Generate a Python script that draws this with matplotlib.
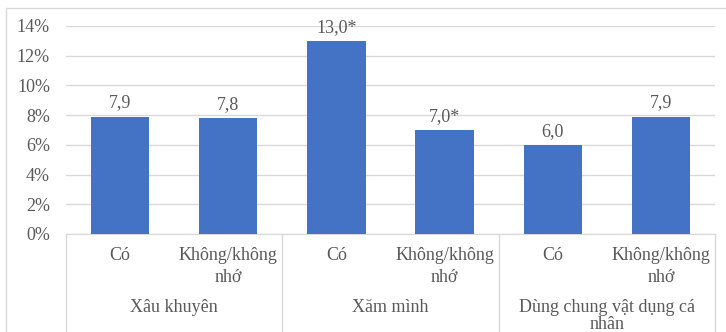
import matplotlib
matplotlib.use("Agg")
import matplotlib.pyplot as plt
from matplotlib.transforms import blended_transform_factory
from matplotlib.patches import Rectangle

groups = ["Xâu khuyên", "Xăm mình", "Dùng chung vật dụng cá\nnhân"]
subcats = ["Có", "Không/không\nnhớ"] * 3
values = [7.9, 7.8, 13.0, 7.0, 6.0, 7.9]
labels = ["7,9", "7,8", "13,0*", "7,0*", "6,0", "7,9"]
yticks = [0, 2, 4, 6, 8, 10, 12, 14]

W, H = 726, 332
fig = plt.figure(figsize=(W / 100, H / 100), dpi=100)
plt.rcParams['font.family'] = ['Liberation Serif', 'DejaVu Serif']
txt = '#595959'
grid = '#d9d9d9'
fs = 13

left, right, bot, top = 66, 715, 234, 26
ax = fig.add_axes([left / W, 1 - bot / H, (right - left) / W, (bot - top) / H])

x = list(range(len(values)))
ax.bar(x, values, width=0.54, color='#4472C4', zorder=3)
for xi, v, l in zip(x, values, labels):
    ax.text(xi, v + 0.35, l, ha='center', va='bottom', fontsize=fs, color=txt)

ax.set_xlim(-0.5, len(values) - 0.5)
ax.set_ylim(0, 14)
ax.set_yticks(yticks)
ax.set_yticklabels([f"{t}%" for t in yticks], fontsize=fs, color=txt)
ax.tick_params(axis='y', length=0, pad=11.5)
ax.set_xticks([])
ax.grid(axis='y', color=grid, linewidth=1, zorder=0)
for s in ['top', 'right', 'left']:
    ax.spines[s].set_visible(False)
ax.spines['bottom'].set_color(grid)

tr = blended_transform_factory(ax.transData, fig.transFigure)
for xi, s in zip(x, subcats):
    ax.text(xi, 1 - 247 / H, s, transform=tr, ha='center', va='top',
            fontsize=fs, color=txt, linespacing=1.35)
for gi, g in enumerate(groups):
    ax.text(2 * gi + 0.5, 1 - 299 / H, g, transform=tr, ha='center', va='top',
            fontsize=fs, color=txt, linespacing=0.98)
for xs in [-0.5, 1.5, 3.5, 5.5]:
    ax.plot([xs, xs], [1 - bot / H, 0], transform=tr, color=grid,
            linewidth=1, clip_on=False)

fig.patches.append(Rectangle((6 / W, -0.1), 1.0, 1.1 - 8 / H,
                             transform=fig.transFigure, fill=False,
                             edgecolor=grid, linewidth=1))

fig.savefig("out.png", dpi=100)
